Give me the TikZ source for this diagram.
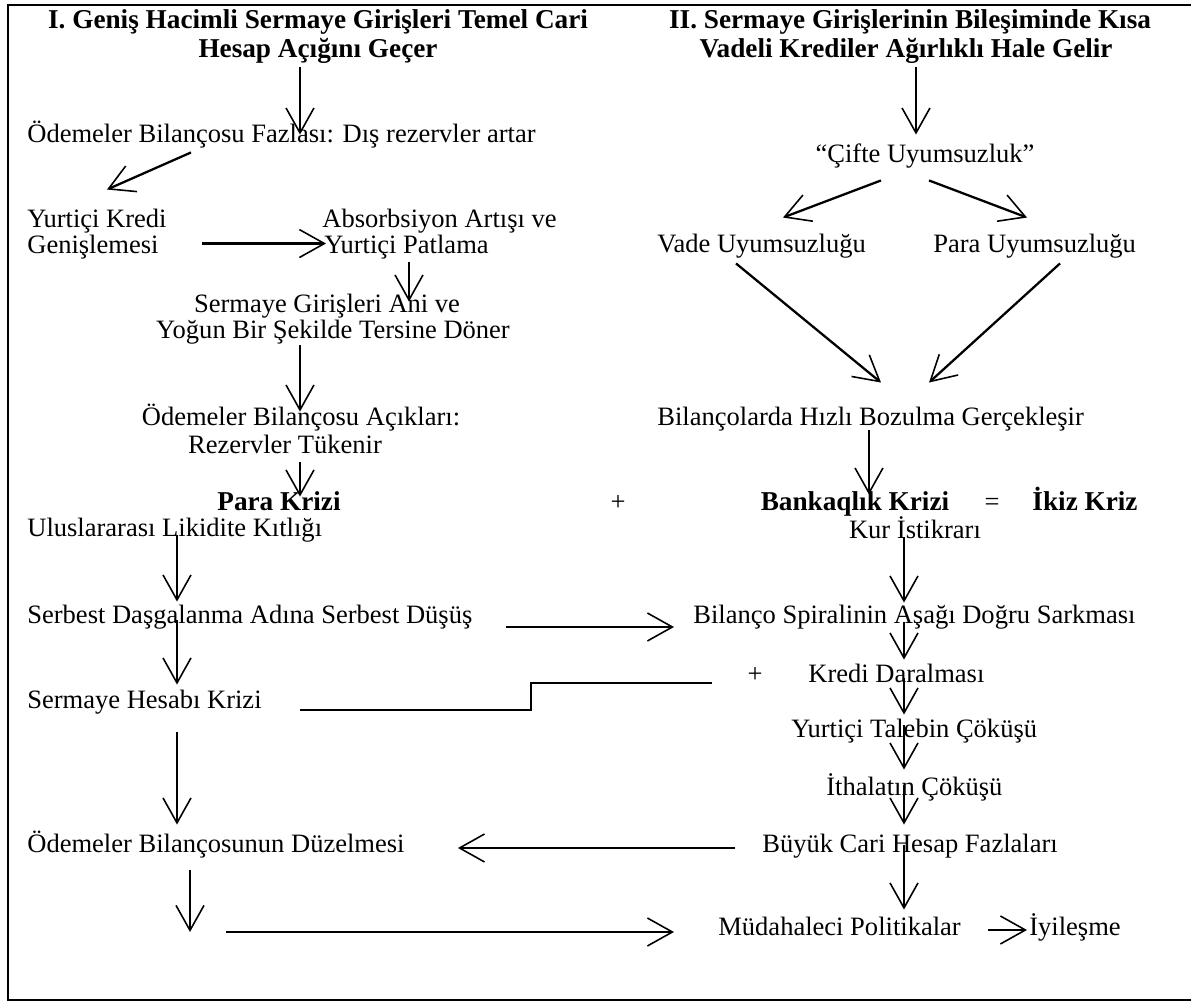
\documentclass[tikz,border=0pt]{standalone}
\usepackage{fontspec}
\setmainfont{Liberation Serif}
\usetikzlibrary{arrows.meta,calc}

\newcommand{\diagfont}{\fontsize{15.1}{16}\selectfont}

\tikzset{
    lbl/.style={inner sep=0pt, text height=.9em, text depth=.25em, font=\diagfont},
    hd/.style={lbl, font=\fontsize{15.5}{16}\selectfont\bfseries},
    arr/.style={line width=1.3pt, -{Straight Barb[length=0.5cm, width=0.56cm, line width=0.9pt]}},
}

\begin{document}
\begin{tikzpicture}[x=0.02cm, y=-0.02cm]
        \useasboundingbox (0,0) rectangle (1191,1003);
        % frame (open on the right)
        \draw[line width=1.5pt] (1191,5) -- (8,5) -- (8,1000) -- (1191,1000);

        % Left column: I
        \node[hd] (t1a) at (318,23) {I. Geniş Hacimli Sermaye Girişleri Temel Cari};
        \node[hd] (t1b) at (318,52) {Hesap Açığını Geçer};
        \node[lbl, anchor=west] (odf) at (27,137) {Ödemeler Bilançosu Fazlası: Dış rezervler artar};
        \node[lbl, anchor=west] (yk1) at (27,222) {Yurtiçi Kredi};
        \node[lbl, anchor=west] (yk2) at (27,248) {Genişlemesi};
        \node[lbl, anchor=west] (ab1) at (322,222) {Absorbsiyon Artışı ve};
        \node[lbl, anchor=west] (ab2) at (324,248) {Yurtiçi Patlama};
        \node[lbl] (sg1) at (327,307) {Sermaye Girişleri Ani ve};
        \node[lbl] (sg2) at (333,333) {Yoğun Bir Şekilde Tersine Döner};
        \node[lbl] (oa1) at (301,420) {Ödemeler Bilançosu Açıkları:};
        \node[lbl] (oa2) at (285,448) {Rezervler Tükenir};
        \node[hd] (pk) at (279,505) {Para Krizi};
        \node[lbl, anchor=west] (ulk) at (27,531) {Uluslararası Likidite Kıtlığı};
        \node[lbl, anchor=west] (sdb) at (27,618) {Serbest Daşgalanma Adına Serbest Düşüş};
        \node[lbl, anchor=west] (shk) at (27,703) {Sermaye Hesabı Krizi};
        \node[lbl, anchor=west] (obd) at (27,847) {Ödemeler Bilançosunun Düzelmesi};
        \coordinate (jn) at (190,932);

        % Right column: II
        \node[hd] (t2a) at (910,23) {II. Sermaye Girişlerinin Bileşiminde Kısa};
        \node[hd] (t2b) at (906,52) {Vadeli Krediler Ağırlıklı Hale Gelir};
        \node[lbl] (cu) at (925,157) {“Çifte Uyumsuzluk”};
        \node[lbl, anchor=west] (vu) at (657,247) {Vade Uyumsuzluğu};
        \node[lbl, anchor=west] (pu) at (933,247) {Para Uyumsuzluğu};
        \node[lbl, anchor=west] (bhb) at (657,420) {Bilançolarda Hızlı Bozulma Gerçekleşir};
        \node[lbl] (pl1) at (618,505) {+};
        \node[hd] (bk) at (855,505) {Bankaqlık Krizi};
        \node[lbl] (eq) at (992,505) {=};
        \node[hd] (ikiz) at (1085,505) {İkiz Kriz};
        \node[lbl] (kur) at (915,533) {Kur İstikrarı};
        \node[lbl, anchor=west] (bsp) at (693,618) {Bilanço Spiralinin Aşağı Doğru Sarkması};
        \node[lbl] (pl2) at (755,677) {+};
        \node[lbl, anchor=west] (kd) at (808,677) {Kredi Daralması};
        \node[lbl, anchor=west] (ytc) at (791,732) {Yurtiçi Talebin Çöküşü};
        \node[lbl, anchor=west] (ith) at (826,790) {İthalatın Çöküşü};
        \node[lbl, anchor=west] (bch) at (762,847) {Büyük Cari Hesap Fazlaları};
        \node[lbl, anchor=west] (mp) at (718,930) {Müdahaleci Politikalar};
        \node[lbl, anchor=west] (iyi) at (1029,930) {İyileşme};

        % Arrows, left
        \draw[arr] ($(t1b.south)+(-18,5)$) -- ($(odf.north west)+(273,8)$);
        \draw[arr] ($(odf.south west)+(164,5)$) -- ($(yk1.north west)+(80,-22)$);
        \draw[arr] ($(yk2.north east)+(43,6)$) -- ($(ab2.north west)+(2,6)$);
        \draw[arr] ($(ab2.south west)+(85,4)$) -- ($(sg1.north)+(82,5)$);
        \draw[arr] ($(sg2.south)+(-33,2)$) -- ($(oa1.north)+(-1,2)$);
        \draw[arr] ($(oa2.south)+(15,4)$) -- ($(pk.north)+(21,2)$);
        \draw[arr] ($(ulk.south west)+(150,-6)$) -- ($(sdb.north west)+(150,-6)$);
        \draw[arr] ($(sdb.south west)+(150,-8)$) -- ($(shk.north west)+(150,-8)$);
        \draw[arr] ($(shk.south west)+(150,19)$) -- ($(obd.north west)+(150,-12)$);
        \draw[arr] ($(obd.south west)+(163,13)$) -- (jn);
        \draw[arr] ($(jn)+(36,0)$) -- ($(mp.west)+(-44,2)$);
        \draw[arr] ($(sdb.east)+(33,9)$) -- ($(bsp.west)+(-19,9)$);
        \draw[line width=1.3pt] ($(shk.east)+(38,7)$) -- ++(231,0) |- ($(pl2.west)+(-35,6)$);

        % Arrows, right
        \draw[arr] ($(t2b.south)+(10,5)$) -- ($(cu.north)+(-9,-12)$);
        \draw[arr] ($(cu.south)+(-44,13)$) -- ($(vu.north west)+(126,-19)$);
        \draw[arr] ($(cu.south)+(4,13)$) -- ($(pu.north west)+(94,-19)$);
        \draw[arr] ($(vu.south west)+(79,6)$) -- ($(bhb.north west)+(224,-27)$);
        \draw[arr] ($(pu.south west)+(127,6)$) -- ($(bhb.north west)+(272,-27)$);
        \draw[arr] ($(bhb.south west)+(212,0)$) -- ($(bk.north)+(14,0)$);
        \draw[arr] ($(kur.south)+(-11,-6)$) -- ($(bsp.north west)+(211,-5)$);
        \draw[arr] ($(bsp.south west)+(211,-6)$) -- ($(kd.north west)+(96,-7)$);
        \draw[arr] ($(kd.south west)+(96,-9)$) -- ($(ytc.north west)+(113,-7)$);
        \draw[arr] ($(ytc.south west)+(113,-17)$) -- ($(ith.north west)+(78,-10)$);
        \draw[arr] ($(ith.south west)+(78,-15)$) -- ($(bch.north west)+(142,-12)$);
        \draw[arr] ($(bch.west)+(-27,1)$) -- ($(obd.east)+(53,1)$);
        \draw[arr] ($(bch.south west)+(142,-12)$) -- ($(mp.north west)+(186,-10)$);
        \draw[arr] ($(mp.east)+(27,0)$) -- ($(iyi.west)+(-2,0)$);
\end{tikzpicture}
\end{document}
